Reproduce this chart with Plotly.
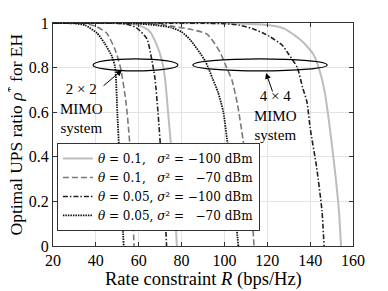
import plotly.graph_objects as go

# ---- data ----
r_2x2_a = [20, 30, 35, 40.5, 44, 47.5, 49, 50, 51, 52, 53]
p_2x2_a = [1, 0.998, 0.99, 0.955, 0.91, 0.85, 0.8, 0.6, 0.4, 0.2, 0]   # theta=0.05, -70

r_2x2_b = [20, 35, 40, 45, 49, 51.5, 54, 55.5, 56.5, 57.3, 57.8]
p_2x2_b = [1, 0.998, 0.985, 0.955, 0.88, 0.8, 0.65, 0.5, 0.35, 0.15, 0]  # theta=0.1, -70

r_2x2_c = [20, 50, 55, 59, 63.8, 66, 67.6, 69, 70.5, 72, 73]
p_2x2_c = [1, 0.999, 0.993, 0.978, 0.93, 0.84, 0.75, 0.6, 0.4, 0.2, 0]  # theta=0.05, -100

r_2x2_d = [20, 55, 60, 65, 68.5, 70.9, 72.3, 73.7, 75.5, 76.7, 77.8]
p_2x2_d = [1, 0.999, 0.99, 0.964, 0.9, 0.83, 0.75, 0.6, 0.4, 0.2, 0]   # theta=0.1, -100

r_4x4_a = [20, 50, 60, 68, 75, 80, 84, 91, 94.5, 97, 99.5, 101.7, 103.5, 105, 106.5]
p_4x4_a = [1, 0.999, 0.997, 0.99, 0.98, 0.96, 0.925, 0.83, 0.75, 0.69, 0.6, 0.44, 0.3, 0.15, 0]

r_4x4_b = [20, 60, 70, 76, 85, 91.9, 97.9, 101, 103.5, 106, 108.7, 111, 112.8, 113.8]
p_4x4_b = [1, 0.999, 0.995, 0.985, 0.97, 0.95, 0.87, 0.8, 0.744, 0.64, 0.475, 0.3, 0.15, 0]

r_4x4_c = [20, 90, 100, 107, 113, 118, 121, 127, 130, 134, 136.5, 138.5, 140, 143, 145.5, 146.5]
p_4x4_c = [1, 0.999, 0.997, 0.99, 0.975, 0.955, 0.94, 0.9, 0.86, 0.8, 0.71, 0.646, 0.53, 0.354, 0.16, 0]

r_4x4_d = [20, 100, 110, 121, 128, 132, 136, 139, 141.5, 144.6, 147, 148.5, 150.2, 152, 153.5, 154.4]
p_4x4_d = [1, 0.999, 0.997, 0.99, 0.975, 0.95, 0.92, 0.89, 0.86, 0.78, 0.68, 0.58, 0.45, 0.3, 0.15, 0]

legend_labels = [
    "<i>θ</i> = 0.1,\u00a0\u00a0 <i>σ</i>² = −100 dBm",
    "<i>θ</i> = 0.1,\u00a0\u00a0 <i>σ</i>² = \u00a0\u00a0−70 dBm",
    "<i>θ</i> = 0.05, <i>σ</i>² = −100 dBm",
    "<i>θ</i> = 0.05, <i>σ</i>² = \u00a0\u00a0−70 dBm",
]

x_ticks = [20, 40, 60, 80, 100, 120, 140, 160]
y_ticks = [0, 0.2, 0.4, 0.6, 0.8, 1]

FONT = "Liberation Serif"
LEGEND_FONT = "DejaVu Serif"

styles = [
    dict(color="#bdbdbd", dash="solid", width=2),
    dict(color="#7a7a7a", dash="6px,3px", width=1.6),
    dict(color="#222222", dash="5px,2px,1.5px,2px", width=1.6),
    dict(color="#111111", dash="1.5px,1px", width=1.8),
]

fig = go.Figure()
series = [
    (r_2x2_d, p_2x2_d, r_4x4_d, p_4x4_d),
    (r_2x2_b, p_2x2_b, r_4x4_b, p_4x4_b),
    (r_2x2_c, p_2x2_c, r_4x4_c, p_4x4_c),
    (r_2x2_a, p_2x2_a, r_4x4_a, p_4x4_a),
]
for i, (r2, p2, r4, p4) in enumerate(series):
    st = styles[i]
    fig.add_trace(go.Scatter(x=r4, y=p4, mode="lines", line=dict(shape="spline", smoothing=0.6, **st),
                             name=legend_labels[i], showlegend=False))
    fig.add_trace(go.Scatter(x=r2, y=p2, mode="lines", line=dict(shape="spline", smoothing=0.6, **st),
                             name=legend_labels[i], showlegend=True))

# ellipses
ell_2x2 = dict(x0=38.7, x1=78.3, y0=0.785, y1=0.839)
ell_4x4 = dict(x0=85.3, x1=147.9, y0=0.785, y1=0.839)
for e in (ell_2x2, ell_4x4):
    fig.add_shape(type="circle", xref="x", yref="y", line=dict(color="black", width=1.2), **e)

# labels with arrows
fig.add_annotation(x=52.2, y=0.789, ax=42.9, ay=0.713, axref="x", ayref="y", xref="x", yref="y",
                   text="", showarrow=True, arrowhead=2, arrowsize=1.2, arrowwidth=1, arrowcolor="black")
fig.add_annotation(x=119.4, y=0.776, ax=122.7, ay=0.686, axref="x", ayref="y", xref="x", yref="y",
                   text="", showarrow=True, arrowhead=2, arrowsize=1.2, arrowwidth=1, arrowcolor="black")
fig.add_annotation(x=33.5, y=0.615, xref="x", yref="y", text="2 × 2<br>MIMO<br>system", showarrow=False,
                   font=dict(family=FONT, size=15, color="black"), align="center")
fig.add_annotation(x=123.6, y=0.587, xref="x", yref="y", text="4 × 4<br>MIMO<br>system", showarrow=False,
                   font=dict(family=FONT, size=15, color="black"), align="center")

# axis titles
fig.add_annotation(x=0.5, y=0, xref="paper", yref="paper", xanchor="center", yanchor="middle", yshift=-33,
                   text="Rate constraint <i>R</i> (bps/Hz)", showarrow=False,
                   font=dict(family=FONT, size=18.5, color="black"))
fig.add_annotation(x=0, y=0.5, xref="paper", yref="paper", xanchor="center", yanchor="middle", xshift=-39,
                   textangle=-90, text="Optimal UPS ratio <i>ρ</i><sup>*</sup> for EH", showarrow=False,
                   font=dict(family=FONT, size=17.5, color="black"))

axis_common = dict(showline=True, linecolor="#333333", linewidth=1, mirror="ticks", ticks="inside",
                   ticklen=4, tickcolor="#333333", showgrid=True, gridcolor="#e3e3e3", gridwidth=1,
                   zeroline=False, automargin=False, tickfont=dict(family=FONT, size=16, color="black"))

fig.update_xaxes(range=[20, 160], tickvals=x_ticks, ticktext=[str(v) for v in x_ticks], **axis_common)
fig.update_yaxes(range=[0, 1], tickvals=y_ticks, ticktext=["0", "0.2", "0.4", "0.6", "0.8", "1"],
                 **axis_common)

fig.update_layout(
    width=380, height=283,
    margin=dict(l=45, r=35, t=15, b=45),
    paper_bgcolor="white", plot_bgcolor="white",
    showlegend=True,
    legend=dict(x=0.013, y=0.462, xanchor="left", yanchor="top", bgcolor="white",
                bordercolor="#333333", borderwidth=1, font=dict(family=LEGEND_FONT, size=12, color="black"),
                itemwidth=30, tracegroupgap=0),
)

fig.write_html("out.html")
